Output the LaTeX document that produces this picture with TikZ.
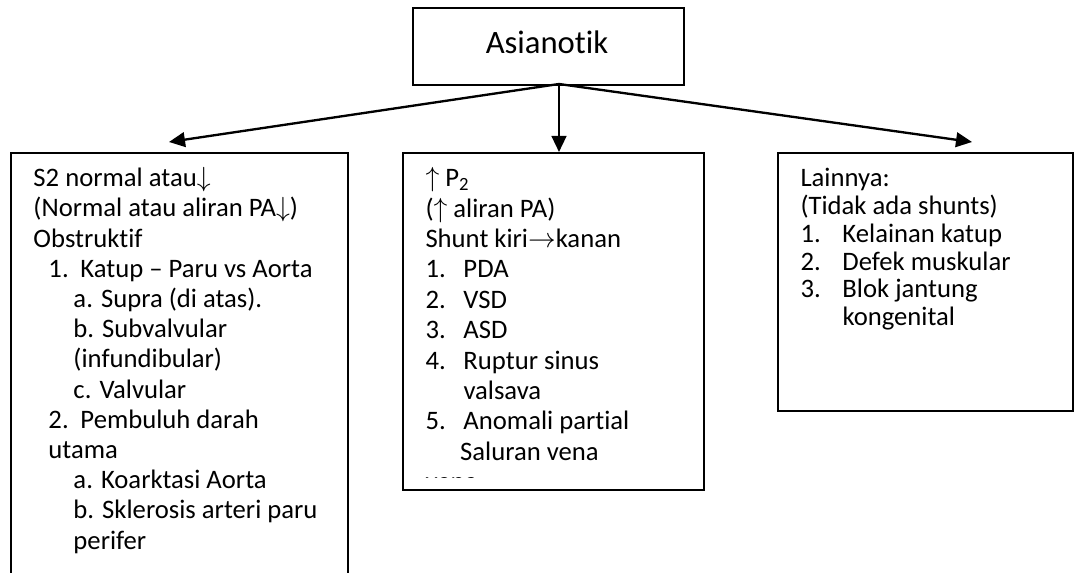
\documentclass[tikz,border=0pt]{standalone}
\usepackage{fontspec}
\setmainfont[Ligatures=NoCommon]{Carlito}
\usetikzlibrary{arrows.meta}

\newcommand{\arrdown}{\ensuremath{\downarrow}}
\newcommand{\arrup}{\ensuremath{\uparrow}}
\newcommand{\arrright}{\ensuremath{\rightarrow}}

\tikzset{every picture/.style={line width=0.75pt}}
\tikzset{
  box/.style={draw, line width=1.5, rectangle, inner sep=0pt, anchor=north west},
  txt/.style={anchor=north west, inner sep=0pt, align=left},
  link/.style={line width=1.75, -{Triangle[length=12pt,width=11pt]}}
}

\begin{document}
\begin{tikzpicture}[x=0.75pt,y=0.75pt,yscale=-1,xscale=1]
\useasboundingbox (0,0) rectangle (1075,573);
\clip (0,0) rectangle (1075,573);

%Shape: Rectangle [id:top]
\node [box, minimum width=203.25pt, minimum height=57.75pt] (top) at (412,7) {};
% Text Node
\node [font=\fontsize{24.5}{28}\selectfont] (title) at (547,42) {Asianotik};

%Shape: Rectangle [id:left]
\node [box, minimum width=252.75pt, minimum height=336pt] (lbox) at (10,152) {};
%Shape: Rectangle [id:middle]
\node [box, minimum width=225.75pt, minimum height=252.75pt] (mbox) at (402,152) {};
%Shape: Rectangle [id:right]
\node [box, minimum width=221.25pt, minimum height=193.5pt] (rbox) at (777,152) {};

%Straight Lines [id:fork]
\coordinate (fork) at (559,84);
\coordinate (tipl) at (169,142);
\coordinate (tipr) at (972,142);
\draw [link] (fork) -- (tipl);
\draw [link] (fork) -- (fork |- mbox.north);
\draw [link] (fork) -- (tipr);

% Text Node
\node [txt, font=\fontsize{20}{22.65}\selectfont] (ltext) at (33,167) {S2 normal atau\arrdown\\
(Normal atau aliran PA\arrdown)\\
Obstruktif\\
\hspace*{11.25pt}\makebox[24pt][l]{1.}Katup -- Paru vs Aorta\\
\hspace*{30pt}a. Supra (di atas).\\
\hspace*{30pt}b. Subvalvular\\
\hspace*{30pt}(infundibular)\\
\hspace*{30pt}c. Valvular\\
\hspace*{11.25pt}\makebox[24pt][l]{2.}Pembuluh darah\\
\hspace*{11.25pt}utama\\
\hspace*{30pt}a. Koarktasi Aorta\\
\hspace*{30pt}b. Sklerosis arteri paru\\
\hspace*{30pt}perifer};

% Text Node
\begin{scope}
\clip (402,152) rectangle (703,478);
\node [txt, font=\fontsize{20}{22.8}\selectfont] (mtext) at (425,167) {\arrup\ P\textsubscript{2}\\
(\arrup\ aliran PA)\\
Shunt kiri\arrright kanan\\
\makebox[28.5pt][l]{1.}PDA\\
\makebox[28.5pt][l]{2.}VSD\\
\makebox[28.5pt][l]{3.}ASD\\
\makebox[28.5pt][l]{4.}Ruptur sinus\\
\hspace*{28.5pt}valsava\\
\makebox[28.5pt][l]{5.}Anomali partial\\
\hspace*{26pt}Saluran vena\\
vena};
\end{scope}

% Text Node
\node [txt, font=\fontsize{20}{20.8}\selectfont] (rtext) at (800,168) {Lainnya:\\
(Tidak ada shunts)\\
\makebox[31.5pt][l]{1.}Kelainan katup\\
\makebox[31.5pt][l]{2.}Defek muskular\\
\makebox[31.5pt][l]{3.}Blok jantung\\
\hspace*{31.5pt}kongenital};

\end{tikzpicture}
\end{document}
